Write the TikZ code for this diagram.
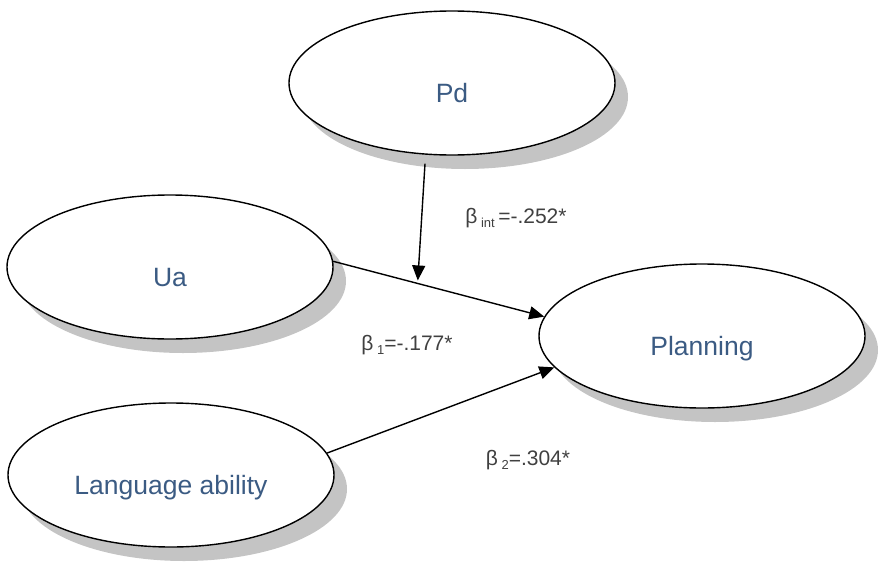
\documentclass[tikz,border=0pt]{standalone}
\usepackage{fontspec}
\setmainfont{Liberation Sans}
\usepackage{xcolor}
\usetikzlibrary{shapes.geometric, shadows, arrows.meta}

\definecolor{textoazul}{HTML}{3B5B83}
\definecolor{textogris}{HTML}{404040}
\definecolor{sombra}{HTML}{C4C4C4}

\tikzset{
  var/.style={ellipse, draw, line width=1.4pt, fill=white,
    minimum width=326pt, minimum height=144pt, inner sep=0pt,
    text height=38pt, text depth=0pt, text=textoazul,
    font=\fontsize{26.5}{30}\selectfont,
    drop shadow={shadow xshift=13pt, shadow yshift=-14pt,
      fill=sombra, opacity=1}},
  coef/.style={text=textogris, font=\fontsize{21}{24}\selectfont},
  flecha/.style={line width=1.4pt, -{Triangle[length=15pt,width=13pt]}}
}

\begin{document}
\begin{tikzpicture}[x=1pt, y=-1pt]
\useasboundingbox (0,0) rectangle (878,562);

% Variables (elipses con sombra)
\node[var] (pd) at (452,83) {Pd};
\node[var] (ua) at (170,267) {Ua};
\node[var] (lang) at (171,475) {Language ability};
\node[var] (plan) at (702,336) {Planning};

% Efectos sobre Planning
\draw[flecha] (ua.2) -- coordinate[pos=0.4] (hit) (plan.173);
\draw[flecha] (lang.8) -- (plan.192);

% Moderacion de Pd
\coordinate (pdout) at ([shift={(-27,8)}]pd.south);
\draw[flecha, shorten >=3pt] (pdout) -- (hit);

% Coeficientes
\node[coef] (bint) at (516,218) {β\,\raisebox{-0.35ex}{\fontsize{13}{15}\selectfont int}\,=-.252*};
\node[coef] (b1) at (407,345) {β\,\raisebox{-0.35ex}{\fontsize{13}{15}\selectfont 1}=-.177*};
\node[coef] (b2) at (528,460) {β\,\raisebox{-0.35ex}{\fontsize{13}{15}\selectfont 2}=.304*};

\end{tikzpicture}
\end{document}
